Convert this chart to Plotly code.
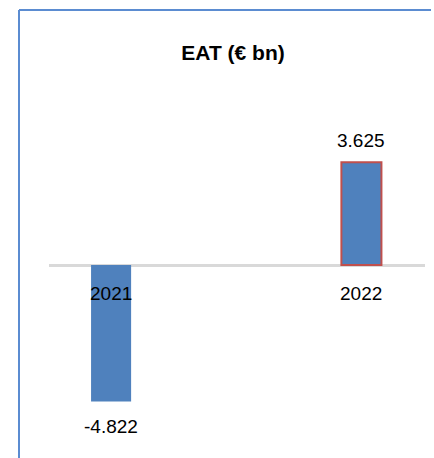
import plotly.graph_objects as go

# Earnings after tax, € bn
years = ["2021", "2022"]
eat = [-4.822, 3.625]
value_labels = ["-4.822", "3.625"]

bar_fill = "#4f81bd"
outline_colors = ["#4f81bd", "#c0504d"]
outline_widths = [0, 2]

W, H = 434, 458
ml, mr, mt, mb = 49, 9, 95, 23
plot_w = W - ml - mr
plot_h = H - mt - mb

fig = go.Figure(
    go.Bar(
        x=years,
        y=eat,
        width=0.16,
        marker=dict(color=bar_fill, line=dict(color=outline_colors, width=outline_widths)),
        hoverinfo="x+y",
    )
)

# value labels above / below the bars (category positions by index)
annotations = []
for i, (v, lab) in enumerate(zip(eat, value_labels)):
    annotations.append(dict(
        x=i, y=v, xref="x", yref="y", text=lab, showarrow=False,
        yshift=22 if v >= 0 else -25,
        font=dict(size=19, color="#000000"),
    ))
# category labels just below the zero line
for i, yr in enumerate(years):
    annotations.append(dict(
        x=i, y=0, xref="x", yref="y", text=yr, showarrow=False,
        yshift=-28, font=dict(size=19, color="#000000"),
    ))

# chart frame: left and top edges
def px_x(p):
    return (p - ml) / plot_w

def px_y(p):
    return (H - mb - p) / plot_h

frame = dict(color="#5b8cd1", width=2)
shapes = [
    dict(type="line", xref="paper", yref="paper",
         x0=px_x(19), x1=px_x(19), y0=px_y(10), y1=px_y(458), line=frame),
    dict(type="line", xref="paper", yref="paper",
         x0=px_x(19), x1=px_x(431), y0=px_y(10), y1=px_y(10), line=frame),
]

fig.update_layout(
    width=W, height=H,
    margin=dict(l=ml, r=mr, t=mt, b=mb),
    paper_bgcolor="white", plot_bgcolor="white",
    font=dict(family="Liberation Sans, Arial, sans-serif", color="#000000"),
    title=dict(
        text="<b>EAT (€ bn)</b>", xref="container", yref="container",
        x=233 / W, y=1 - 53 / H, xanchor="center", yanchor="middle",
        font=dict(size=21, color="#000000"),
    ),
    showlegend=False,
    annotations=annotations,
    shapes=shapes,
    xaxis=dict(
        type="category",
        range=[-0.248, 1.254], showticklabels=False, showgrid=False,
        zeroline=False, showline=False, ticks="",
    ),
    yaxis=dict(
        range=[-6, 6], showticklabels=False, showgrid=False,
        zeroline=True, zerolinecolor="#d9d9d9", zerolinewidth=3,
        showline=False, ticks="",
    ),
)

fig.write_html("out.html")
